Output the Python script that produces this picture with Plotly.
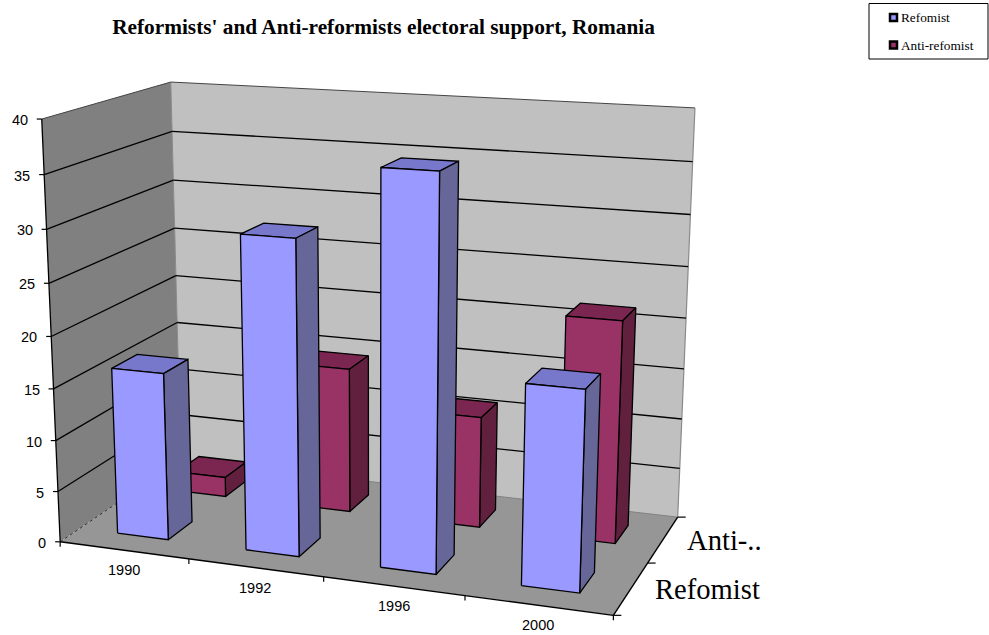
import numpy as np
import plotly.graph_objects as go

# Chart data
categories = ["1990", "1992", "1996", "2000"]
series_names = ["Refomist", "Anti-refomist"]
depth_labels = ["Refomist", "Anti-.."]
refomist = [16.3, 30, 36.8, 18.7]
anti_refomist = [2, 14.5, 11, 21.6]
value_ticks = [0, 5, 10, 15, 20, 25, 30, 35, 40]
VALUE_MAX = 40
GAP = 0.3  # share of each cell left empty on either side of a bar

# Pixel positions of the plot box corners: (across, depth, height) -> (px, py)
BOX_CORNERS = [
    ((0, 0, 0), (60, 541.5)),
    ((0, 1, 0), (181, 460)),
    ((1, 1, 0), (677.7, 516.7)),
    ((1, 0, 0), (613.3, 615.7)),
    ((0, 0, 1), (42, 119)),
    ((0, 1, 1), (170.5, 82)),
    ((1, 1, 1), (695, 108)),
]


def fit_camera(corners):
    """Least-squares projective camera from box corners."""
    rows, rhs = [], []
    for (a, b, c), (u, v) in corners:
        rows.append([a, b, c, 1, 0, 0, 0, 0, -u * a, -u * b, -u * c])
        rhs.append(u)
        rows.append([0, 0, 0, 0, a, b, c, 1, -v * a, -v * b, -v * c])
        rhs.append(v)
    sol = np.linalg.lstsq(np.array(rows, float), np.array(rhs, float), rcond=None)[0]
    return np.append(sol, 1).reshape(3, 4)


CAMERA = fit_camera(BOX_CORNERS)


def project(across, depth, value):
    p = CAMERA @ np.array([across, depth, value / VALUE_MAX, 1.0])
    return p[0] / p[2], p[1] / p[2]


def polygon(points):
    pts = [project(*p) for p in points]
    pts.append(pts[0])
    return [p[0] for p in pts], [p[1] for p in pts]


def area(fig, points, fill, line="rgba(0,0,0,0)", width=0):
    xs, ys = polygon(points)
    fig.add_trace(go.Scatter(x=xs, y=ys, mode="lines", fill="toself", fillcolor=fill,
                             line=dict(color=line, width=width), hoverinfo="skip",
                             showlegend=False))


def segment(fig, start, end, color="#000000", width=1.3, dash="solid"):
    a, b = project(*start), project(*end)
    fig.add_trace(go.Scatter(x=[a[0], b[0]], y=[a[1], b[1]], mode="lines",
                             line=dict(color=color, width=width, dash=dash),
                             hoverinfo="skip", showlegend=False))


def bar_faces(values, depth_start, depth_end):
    n = len(values)
    fronts, sides, tops = [], [], []
    for i, val in enumerate(values):
        x0, x1 = (i + GAP) / n, (i + 1 - GAP) / n
        y0, y1 = depth_start, depth_end
        fronts.append([(x0, y0, 0), (x1, y0, 0), (x1, y0, val), (x0, y0, val)])
        sides.append([(x1, y0, 0), (x1, y1, 0), (x1, y1, val), (x1, y0, val)])
        tops.append([(x0, y0, val), (x1, y0, val), (x1, y1, val), (x0, y1, val)])
    return fronts, sides, tops


def add_faces(fig, faces, fill, name):
    xs, ys = [], []
    for face in faces:
        fx, fy = polygon(face)
        xs += fx + [None]
        ys += fy + [None]
    fig.add_trace(go.Scatter(x=xs, y=ys, mode="lines", fill="toself", fillcolor=fill,
                             line=dict(color="#000000", width=1.3), name=name,
                             hoverinfo="skip", showlegend=False))


fig = go.Figure()

# Walls and floor
area(fig, [(0, 1, 0), (1, 1, 0), (1, 1, 40), (0, 1, 40)], "#C0C0C0")
area(fig, [(0, 0, 0), (0, 1, 0), (0, 1, 40), (0, 0, 40)], "#808080")
area(fig, [(0, 0, 0), (1, 0, 0), (1, 1, 0), (0, 1, 0)], "#969696")

segment(fig, (1, 1, 0), (1, 1, 40), "#8a8a8a", 1.2)
segment(fig, (0, 1, 0), (0, 1, 40), "#8a8a8a", 1)
segment(fig, (0, 1, 0), (1, 1, 0), "#808080", 1)
segment(fig, (0, 0, 0), (0, 1, 0), "#333333", 1, "dot")

# Gridlines across both walls
for v in value_ticks[1:]:
    color, width = ("#000000", 1.3) if v < VALUE_MAX else ("#444444", 1)
    segment(fig, (0, 0, v), (0, 1, v), color, width)
    segment(fig, (0, 1, v), (1, 1, v), color, width)

# Bars: the rear series first so the front series covers it
for values, d0, d1, name, front, side, top in [
    (anti_refomist, 0.65, 0.85, series_names[1], "#993366", "#62203F", "#7A2650"),
    (refomist, 0.15, 0.35, series_names[0], "#9999FF", "#666699", "#7777CC"),
]:
    fronts, sides, tops = bar_faces(values, d0, d1)
    add_faces(fig, tops, top, name)
    add_faces(fig, sides, side, name)
    add_faces(fig, fronts, front, name)

# Axis lines
segment(fig, (0, 0, 0), (0, 0, 40), "#000000", 1.3)
segment(fig, (0, 0, 0), (1, 0, 0), "#000000", 1.4)
segment(fig, (1, 0, 0), (1, 1, 0), "#000000", 1.4)

annotations = []


def label(x, y, text, family, size, anchor, xshift=0, yshift=0):
    annotations.append(dict(x=x, y=y, xref="x", yref="y", text=text, showarrow=False,
                            xanchor=anchor, yanchor="middle", xshift=xshift, yshift=yshift,
                            font=dict(family=family, size=size, color="#000000")))


SANS = "Liberation Sans"
SERIF = "Liberation Serif"


def tick(x, y, dx, dy):
    fig.add_trace(go.Scatter(x=[x, x + dx], y=[y, y + dy], mode="lines",
                             line=dict(color="#000000", width=1.2),
                             hoverinfo="skip", showlegend=False))


# Value axis ticks and labels
for v in value_ticks:
    px, py = project(0, 0, v)
    tick(px, py, -5, 0)
    label(px, py, str(v), SANS, 14.5, "right", xshift=-12, yshift=-1)

# Category axis ticks and labels
n_cat = len(categories)
for i in range(n_cat + 1):
    px, py = project(i / n_cat, 0, 0)
    tick(px, py, 0, 5)
for i, cat in enumerate(categories):
    px, py = project((i + 0.5) / n_cat, 0, 0)
    label(px, py, cat, SANS, 14.5, "center", yshift=-20)

# Depth axis ticks and labels
n_depth = len(depth_labels)
for i in range(n_depth + 1):
    px, py = project(1, i / n_depth, 0)
    tick(px, py, 8, 0)
for i, text in enumerate(depth_labels):
    px, py = project(1, (i + 0.5) / n_depth, 0)
    label(px, py, text, SERIF, 28.6, "left", xshift=22, yshift=-1)

# Legend box, drawn with its swatches beside the labels
LEGEND_SWATCHES = [("#9999FF", 17.5), ("#993366", 45)]
for (color, y), name in zip(LEGEND_SWATCHES, series_names):
    fig.add_trace(go.Scatter(x=[893.5], y=[y], mode="markers", name=name,
                             marker=dict(symbol="square", size=7, color=color,
                                         line=dict(color="#000000", width=2.5)),
                             hoverinfo="skip", showlegend=False))
    label(899, y, name, SERIF, 13.3, "left")

fig.update_layout(
    width=989, height=635, margin=dict(l=0, r=0, t=0, b=0),
    paper_bgcolor="#FFFFFF", plot_bgcolor="#FFFFFF",
    xaxis=dict(range=[0, 989], visible=False, fixedrange=True),
    yaxis=dict(range=[635, 0], visible=False, fixedrange=True),
    showlegend=False,
    title=dict(text="<b>Reformists' and Anti-reformists electoral support, Romania</b>",
               x=383.5 / 989, y=1 - 27 / 635, xanchor="center", yanchor="middle",
               font=dict(family=SERIF, size=21.3, color="#000000")),
    annotations=annotations,
    shapes=[dict(type="rect", xref="x", yref="y", x0=869, x1=988, y0=3.5, y1=59,
                 line=dict(color="#000000", width=1), fillcolor="#FFFFFF", layer="below")],
)

fig.write_html("out.html", config=dict(displayModeBar=False))
